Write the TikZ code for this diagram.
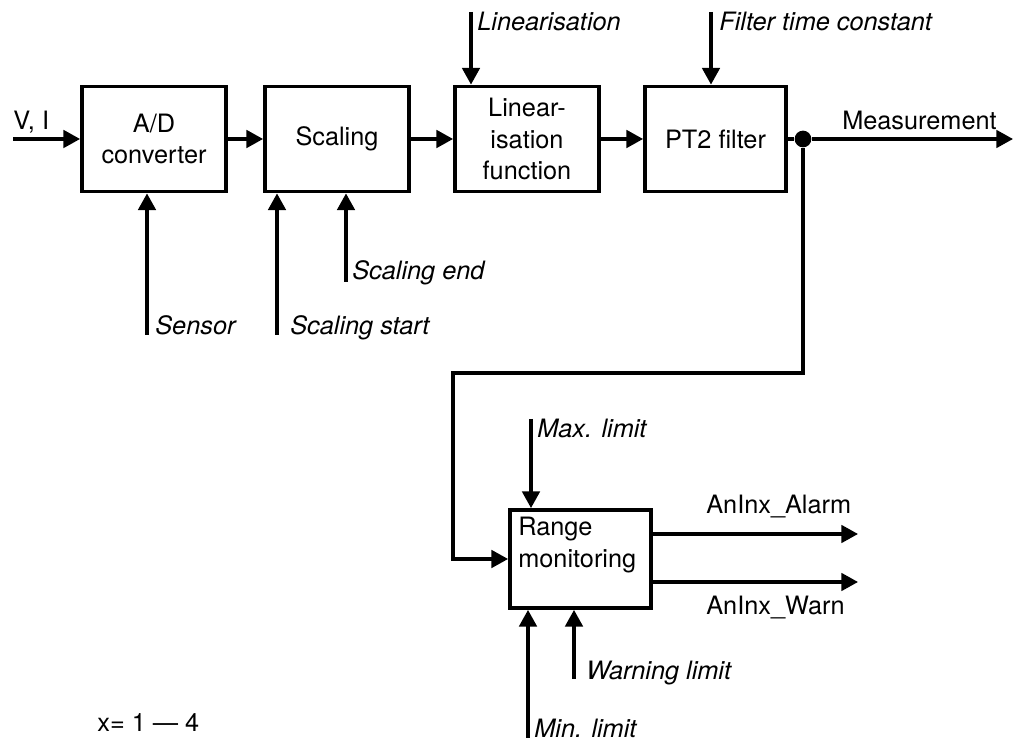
\documentclass[tikz,border=0pt]{standalone}
\usepackage{fontspec}
\setmainfont{TeX Gyre Heros}
\usetikzlibrary{arrows.meta,positioning}

\tikzset{
	blk/.style={draw, line width=2.2pt, minimum width=2.88cm, minimum height=2.1cm, align=center, inner sep=0pt},
	arr/.style={line width=1.8pt, -{Triangle[length=9.5pt,width=10pt]}},
	wire/.style={line width=1.8pt},
	lbl/.style={inner sep=0pt, font=\fontsize{14.4}{18}\selectfont\itshape},
	txt/.style={inner sep=0pt}
}

\begin{document}
\begin{tikzpicture}[x=0.02cm,y=-0.02cm,font=\fontsize{14.4}{18}\selectfont]
		\useasboundingbox (0,0) rectangle (1018,742);

		% blocks
		\node[blk] (ad) at (154,139) {A/D\\converter};
		\node[blk] (scal) at (337,139) {Scaling};
		\node[blk] (lin) at (527,139) {Linear-\\isation\\function};
		\node[blk,minimum width=2.82cm] (pt2) at (715.5,139) {PT2 filter};
		\node[blk,minimum width=2.82cm,minimum height=1.96cm] (range) at (580.5,559) {};
		\node[txt,anchor=north west,align=left] (rangetxt) at (518,517) {Range\\monitoring};

		% chain
		\coordinate (vin) at (13,139);
		\node[txt,anchor=base west] (vi) at (13,130) {V, I};
		\draw[arr] (vin) -- (ad.west);
		\draw[arr] (ad.east) -- (scal.west);
		\draw[arr] (scal.east) -- (lin.west);
		\draw[arr] (lin.east) -- (pt2.west);

		% measurement
		\node[circle,fill,inner sep=0pt,minimum size=9.5pt] (dot) at (803,139) {};
		\coordinate (meas) at (1013,139);
		\draw[wire] (pt2.east) -- (dot);
		\draw[arr] (dot) -- (meas);
		\node[txt,anchor=base east] (measlbl) at (997,130) {Measurement};

		% feedback to range monitoring
		\coordinate (bend) at (453,373);
		\draw[arr] (dot) -- (dot |- bend) -- (bend) |- (range.west);

		% parameters from above
		\coordinate (linin) at (471,12);
		\draw[arr] (linin) -- (linin |- lin.north);
		\node[lbl,anchor=base west] (linlbl) at (477,31) {Linearisation};

		\coordinate (filtin) at (711,12);
		\draw[arr] (filtin) -- (filtin |- pt2.north);
		\node[lbl,anchor=base west] (filtlbl) at (719,31) {Filter time constant};

		% parameters from below
		\coordinate (sensin) at (147,335);
		\draw[arr] (sensin) -- (sensin |- ad.south);
		\node[lbl,anchor=base west] (senslbl) at (155,335) {Sensor};

		\coordinate (startin) at (277,335);
		\draw[arr] (startin) -- (startin |- scal.south);
		\node[lbl,anchor=base west] (startlbl) at (290,335) {Scaling start};

		\coordinate (endin) at (346,282);
		\draw[arr] (endin) -- (endin |- scal.south);
		\node[lbl,anchor=base west] (endlbl) at (352,280) {Scaling end};

		% limits
		\coordinate (maxin) at (531,419);
		\draw[arr] (maxin) -- (maxin |- range.north);
		\node[lbl,anchor=base west] (maxlbl) at (537,438) {Max. limit};

		\coordinate (warnin) at (574,679);
		\draw[arr] (warnin) -- (warnin |- range.south);
		\node[lbl,anchor=base west] (warnlbl) at (586,680) {Warning limit};

		\coordinate (minin) at (528,738);
		\draw[arr] (minin) -- (minin |- range.south);
		\node[lbl,anchor=base west] (minlbl) at (534,738) {Min. limit};

		% outputs
		\coordinate (alarm) at (858,534);
		\draw[arr] (range.east |- alarm) -- (alarm);
		\node[txt,anchor=base west] (alarmlbl) at (706,514) {AnInx\_Alarm};

		\coordinate (warn) at (858,582);
		\draw[arr] (range.east |- warn) -- (warn);
		\node[txt,anchor=base west] (warnout) at (706,615) {AnInx\_Warn};

		% index
		\node[txt,anchor=base west] (idx) at (97,732) {x= 1 — 4};

\end{tikzpicture}
\end{document}
